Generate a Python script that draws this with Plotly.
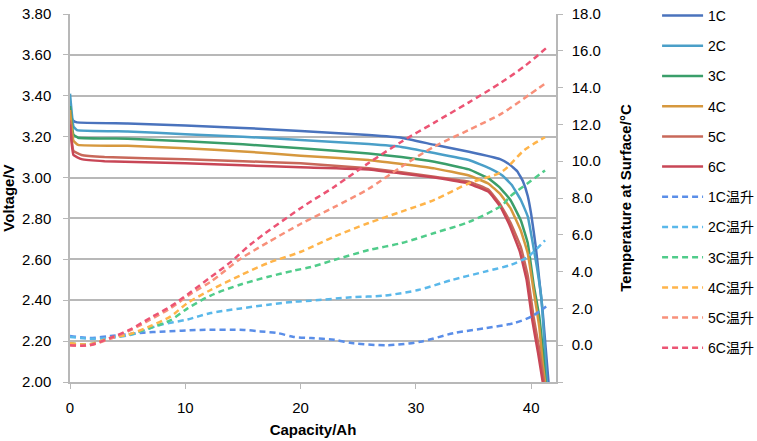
import plotly.graph_objects as go

# ---------------- data ----------------
series_names = ["1C", "2C", "3C", "4C", "5C", "6C"]
temp_names = ["1C温升", "2C温升", "3C温升", "4C温升", "5C温升", "6C温升"]

cap_1c = [0, 0.25, 0.6, 5, 10, 15, 20, 25.9, 28.75, 31.6, 34.6, 37.3, 38.1, 38.8, 39.3, 39.7, 40.0, 40.4, 40.7, 41.0, 41.25, 41.5]
volt_1c = [3.31, 3.28, 3.27, 3.265, 3.255, 3.243, 3.228, 3.208, 3.195, 3.16, 3.126, 3.09, 3.065, 3.03, 2.98, 2.91, 2.82, 2.66, 2.50, 2.34, 2.17, 2.0]

cap_2c = [0, 0.3, 0.6, 5, 10, 15, 20, 25.9, 28.75, 31.6, 34.6, 36.4, 37.5, 38.3, 39.1, 39.7, 40.1, 40.5, 40.9, 41.1, 41.35]
volt_2c = [3.41, 3.25, 3.232, 3.225, 3.212, 3.20, 3.184, 3.164, 3.15, 3.12, 3.086, 3.045, 3.01, 2.965, 2.89, 2.81, 2.69, 2.56, 2.40, 2.23, 2.0]

cap_3c = [0, 0.3, 0.7, 5, 10, 15, 20, 25.9, 28.75, 31.6, 34.6, 36.3, 37.3, 38.2, 39.1, 39.7, 40.2, 40.7, 41.0, 41.25]
volt_3c = [3.35, 3.21, 3.195, 3.19, 3.178, 3.163, 3.143, 3.118, 3.10, 3.077, 3.04, 2.996, 2.95, 2.89, 2.79, 2.68, 2.48, 2.32, 2.16, 2.0]

cap_4c = [0, 0.3, 0.7, 5, 10, 15, 20, 25.9, 28.75, 31.6, 34.6, 36.3, 37.3, 38.2, 39.1, 39.7, 40.2, 40.7, 41.0, 41.2]
volt_4c = [3.33, 3.18, 3.16, 3.155, 3.143, 3.128, 3.107, 3.086, 3.066, 3.045, 3.01, 2.97, 2.92, 2.85, 2.74, 2.63, 2.45, 2.27, 2.09, 2.0]

cap_5c = [0, 0.3, 1, 3, 10, 15, 20, 25.9, 28.75, 31.6, 34.6, 36.3, 37.3, 38.2, 39.1, 39.7, 40.2, 40.7, 41.1]
volt_5c = [3.28, 3.13, 3.11, 3.10, 3.09, 3.08, 3.07, 3.045, 3.026, 3.004, 2.98, 2.94, 2.87, 2.78, 2.66, 2.52, 2.32, 2.16, 2.0]

cap_6c = [0, 0.3, 1, 3, 10, 15, 20, 25.9, 28.75, 31.6, 34.6, 36.3, 37.3, 38.1, 39.0, 39.6, 40.1, 40.6, 41.0]
volt_6c = [3.26, 3.11, 3.09, 3.08, 3.07, 3.06, 3.05, 3.04, 3.02, 3.0, 2.97, 2.93, 2.86, 2.77, 2.64, 2.50, 2.30, 2.14, 2.0]

tcap_1c = [0, 1.7, 3.5, 6.4, 7.8, 11.3, 15.1, 16.5, 18.0, 19.4, 20.9, 22.9, 24.6, 27.5, 30.4, 33.3, 36.1, 38.5, 40.0, 41.3]
temp_1c = [0.5, 0.39, 0.5, 0.68, 0.73, 0.83, 0.83, 0.75, 0.66, 0.45, 0.39, 0.3, 0.1, 0.0, 0.19, 0.66, 0.93, 1.2, 1.55, 2.1]

tcap_2c = [0, 1.7, 3.5, 5.2, 7.8, 10.2, 12.2, 14.8, 17.2, 19.4, 20.9, 24.4, 27.3, 30.2, 33.1, 36.0, 38.2, 39.7, 41.2]
temp_2c = [0.45, 0.35, 0.4, 0.55, 1.1, 1.4, 1.75, 2.0, 2.2, 2.36, 2.42, 2.6, 2.7, 3.0, 3.54, 4.0, 4.36, 4.8, 5.7]

tcap_3c = [0, 1.7, 3.5, 5.2, 7, 8.7, 10.2, 12.2, 14.8, 17.2, 19.4, 20.9, 22.9, 25.9, 28.75, 31.6, 34.6, 37.46, 38.2, 39.7, 41.2]
temp_3c = [0.1, 0.05, 0.4, 0.6, 0.95, 1.35, 2.0, 2.7, 3.3, 3.72, 4.05, 4.25, 4.63, 5.17, 5.55, 6.1, 6.7, 7.6, 8.1, 8.8, 9.5]

tcap_4c = [0, 1.7, 3.5, 5.2, 7, 8.7, 10.2, 12.2, 14.8, 17.2, 20.03, 22.9, 25.9, 28.75, 31.6, 34.6, 37.46, 39.4, 41.2]
temp_4c = [0.1, 0.05, 0.4, 0.6, 1.05, 1.55, 2.3, 3.0, 3.8, 4.47, 5.08, 5.9, 6.64, 7.26, 7.9, 8.8, 9.43, 10.6, 11.3]

tcap_5c = [0, 1.7, 3.5, 5.2, 7, 8.7, 10.5, 12.2, 14.8, 17.2, 20.03, 22.9, 25.9, 28.75, 31.6, 34.6, 37.46, 39.8, 41.4]
temp_5c = [0.0, 0.0, 0.35, 0.8, 1.4, 2.0, 2.8, 3.45, 4.7, 5.6, 6.6, 7.5, 8.5, 9.7, 10.8, 11.7, 12.6, 13.6, 14.3]

tcap_6c = [0, 1.7, 3.5, 5.2, 7, 8.7, 10.5, 12.2, 13.9, 15.7, 20.03, 22.9, 25.9, 28.75, 31.6, 34.6, 37.46, 39.5, 41.4]
temp_6c = [0.0, 0.0, 0.4, 0.85, 1.5, 2.1, 2.9, 3.7, 4.5, 5.5, 7.46, 8.6, 9.9, 11.06, 12.1, 13.2, 14.3, 15.2, 16.2]

volt_ticks = [2.0, 2.2, 2.4, 2.6, 2.8, 3.0, 3.2, 3.4, 3.6, 3.8]
temp_ticks = [-2, 0, 2, 4, 6, 8, 10, 12, 14, 16, 18]
cap_ticks = [0, 10, 20, 30, 40]

# ---------------- styles ----------------
volt_colors = ["#4a73bd", "#4a9fc8", "#3a9e6a", "#d6983e", "#c8685a", "#c84656"]
temp_colors = ["#5a8ee8", "#5ab8ea", "#50cc8a", "#ffb44a", "#f8907a", "#ec5474"]

FONT = "Liberation Sans, Arial, Noto Sans CJK SC, sans-serif"
GRID = "#b8b8b8"

fig = go.Figure()

volt_caps = [cap_1c, cap_2c, cap_3c, cap_4c, cap_5c, cap_6c]
volt_vals = [volt_1c, volt_2c, volt_3c, volt_4c, volt_5c, volt_6c]
for i, name in enumerate(series_names):
    fig.add_trace(go.Scatter(
        x=volt_caps[i], y=volt_vals[i], name=name, mode="lines",
        line=dict(color=volt_colors[i], width=2.5, shape="spline", smoothing=0.3),
        legendgroup=name, yaxis="y"))

temp_caps = [tcap_1c, tcap_2c, tcap_3c, tcap_4c, tcap_5c, tcap_6c]
temp_vals = [temp_1c, temp_2c, temp_3c, temp_4c, temp_5c, temp_6c]
for i, name in enumerate(temp_names):
    fig.add_trace(go.Scatter(
        x=temp_caps[i], y=temp_vals[i], name=name, mode="lines",
        line=dict(color=temp_colors[i], width=2.5, dash="6px,4px", shape="spline", smoothing=0.8),
        legendgroup=name, yaxis="y2"))

fig.update_layout(
    width=757, height=441,
    margin=dict(l=70, r=201, t=14, b=59),
    paper_bgcolor="white", plot_bgcolor="white",
    font=dict(family=FONT, size=15, color="#000000"),
    showlegend=True,
    legend=dict(xref="container", yref="container", x=0.868, xanchor="left",
                y=1.014, yanchor="top", maxheight=460,
                font=dict(size=14, family=FONT), tracegroupgap=9,
                itemwidth=41, bgcolor="rgba(0,0,0,0)"),
    xaxis=dict(range=[0, 42.15], tickvals=cap_ticks, ticks="outside", ticklen=5,
               tickcolor=GRID, showline=True, linecolor=GRID, linewidth=1.5,
               showgrid=False, zeroline=False, ticklabelstandoff=6, automargin=False,
               title=dict(text="<b>Capacity/Ah</b>", standoff=10, font=dict(size=15))),
    yaxis=dict(range=[2.0, 3.8], tickvals=volt_ticks, tickformat=".2f",
               ticks="outside", ticklen=5, tickcolor=GRID,
               showline=True, linecolor=GRID, linewidth=1.5,
               showgrid=True, gridcolor=GRID, gridwidth=1.5, zeroline=False,
               ticklabelstandoff=9, automargin=False,
               title=dict(text="<b>Voltage/V</b>", standoff=4, font=dict(size=15))),
    yaxis2=dict(range=[-2, 18], overlaying="y", side="right",
                tickvals=temp_ticks,
                ticktext=["" if t < 0 else f"{t:.1f}" for t in temp_ticks],
                ticks="outside", ticklen=5, tickcolor=GRID,
                showline=True, linecolor=GRID, linewidth=1.5,
                showgrid=False, zeroline=False, ticklabelstandoff=6, automargin=False,
                title=dict(text="<b>Temperature at Surface/°C</b>", standoff=21, font=dict(size=15))),
)

fig.write_html("out.html", config={"displayModeBar": False},
               post_script="document.body.style.margin='0';")
